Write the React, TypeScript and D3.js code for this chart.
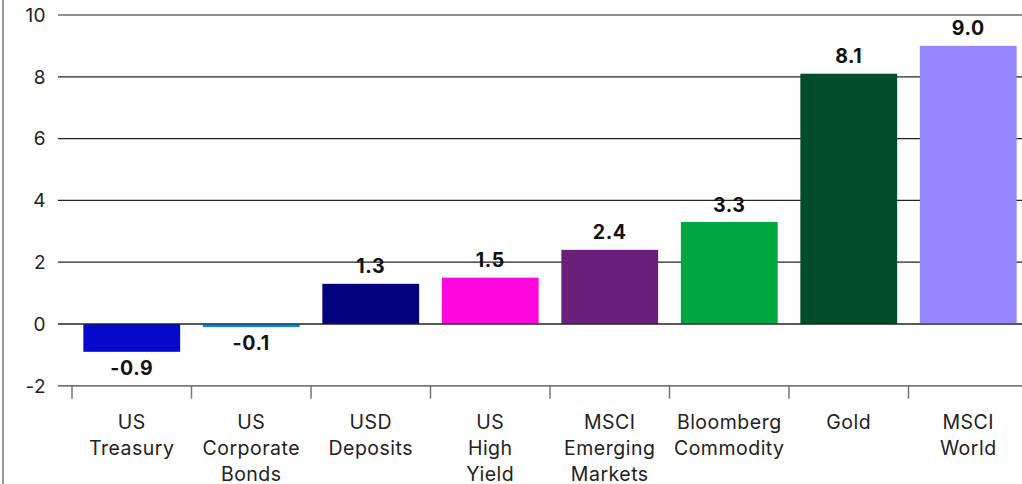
import React from "react";
import * as d3 from "d3";

const categories: string[][] = [
  ["US", "Treasury"],
  ["US", "Corporate", "Bonds"],
  ["USD", "Deposits"],
  ["US", "High", "Yield"],
  ["MSCI", "Emerging", "Markets"],
  ["Bloomberg", "Commodity"],
  ["Gold"],
  ["MSCI", "World"],
];
const values: number[] = [-0.9, -0.1, 1.3, 1.5, 2.4, 3.3, 8.1, 9.0];
const colors: string[] = ["#0509cc", "#0a86e0", "#02007a", "#ff08dd", "#6a1f79", "#00a640", "#004b29", "#9386ff"];
const yTicks: number[] = [-2, 0, 2, 4, 6, 8, 10];

const W = 1022;
const H = 484;
const FONT = "Inter, 'Noto Sans', sans-serif";

export default function App() {
  const y = d3.scaleLinear().domain([-2, 10]).range([385.8, 15]);
  const x = d3
    .scaleBand<number>()
    .domain(values.map((_, i) => i))
    .range([72, 1028])
    .paddingInner(0.19)
    .paddingOuter(0.095);
  const step = x.step();
  const bandStart = (i: number) => 72 + i * step;

  return (
    <svg
      width={W}
      height={H}
      style={{ position: "fixed", left: 0, top: 0, background: "#fff" }}
      fontFamily={FONT}
    >
      <rect x={0} y={0} width={W} height={H} fill="#fff" />
      <line x1={3} x2={3} y1={0} y2={H} stroke="#9a9a9a" strokeWidth={2} />
      {yTicks.map((t) => (
        <g key={t}>
          <line x1={58} x2={W} y1={y(t)} y2={y(t)} stroke={t === -2 ? "#444" : "#222"} strokeWidth={1.2} />
          <text x={46} y={y(t)} dy="0.36em" textAnchor="end" fontSize={19} letterSpacing={0.4} fill="#222">
            {t}
          </text>
        </g>
      ))}
      {values.map((_, i) => (
        <line key={"tk" + i} x1={bandStart(i)} x2={bandStart(i)} y1={y(-2)} y2={y(-2) + 13} stroke="#777" strokeWidth={1.5} />
      ))}
      {values.map((v, i) => {
        const x0 = x(i)!;
        const top = y(Math.max(0, v));
        const bottom = y(Math.min(0, v));
        return (
          <rect key={"b" + i} x={x0} y={top} width={x.bandwidth()} height={bottom - top} fill={colors[i]} />
        );
      })}
      <line x1={58} x2={W} y1={y(0)} y2={y(0)} stroke="#222" strokeWidth={1.2} />
      {values.map((v, i) => {
        const cx = x(i)! + x.bandwidth() / 2;
        const ly = v >= 0 ? y(v) - 10.5 : y(v) + 23;
        return (
          <text key={"v" + i} x={cx} y={ly} textAnchor="middle" fontSize={19.5} fontWeight={700} letterSpacing={0.6} fill="#111">
            {v.toFixed(1)}
          </text>
        );
      })}
      {categories.map((lines, i) => {
        const cx = bandStart(i) + step / 2;
        return (
          <text key={"c" + i} x={cx} textAnchor="middle" fontSize={19.5} letterSpacing={0.5} fill="#222">
            {lines.map((l, j) => (
              <tspan key={j} x={cx} y={429 + j * 26}>
                {l}
              </tspan>
            ))}
          </text>
        );
      })}
    </svg>
  );
}
